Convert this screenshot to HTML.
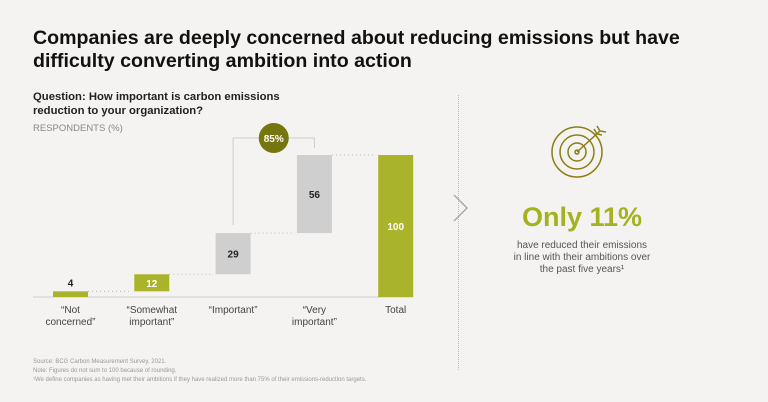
<!DOCTYPE html>
<html><head><meta charset="utf-8"><style>
body{margin:0;background:#f4f3f1;font-family:"Liberation Sans",sans-serif;}
#root{position:relative;width:768px;height:402px;overflow:hidden;background:#f4f3f1;}
.t{position:absolute;white-space:nowrap;}
</style></head><body>
<div id="root">
<div class="t" style="left:33px;top:27px;font-size:19.6px;font-weight:bold;color:#111;line-height:23px;">Companies are deeply concerned about reducing emissions but have<br>difficulty converting ambition into action</div>
<div class="t" style="left:33px;top:90px;font-size:11.3px;font-weight:bold;color:#222;line-height:14px;">Question: How important is carbon emissions<br>reduction to your organization?</div>
<div class="t" style="left:33px;top:123px;font-size:9.5px;color:#888;">RESPONDENTS (%)</div>
<svg id="chart" width="768" height="402" style="position:absolute;left:0;top:0"></svg>
<div class="t" style="left:458px;top:95px;height:275px;border-left:1px dotted #bbb;"></div>
<svg style="position:absolute;left:450px;top:192px" width="22" height="32"><polyline points="4,3 17,16 4,29" fill="none" stroke="#aaa" stroke-width="1.5"/></svg>
<svg style="position:absolute;left:550px;top:125px" width="70" height="70">
<g fill="none" stroke="#8a7f12" stroke-width="1.5"><circle cx="27" cy="27" r="25"/><circle cx="27" cy="27" r="17"/><circle cx="27" cy="27" r="9"/><circle cx="27" cy="27" r="2"/><line x1="27" y1="27" x2="50" y2="6"/><polyline points="44,4 47,9 52,10"/><polyline points="47,1 50,6 56,7"/></g></svg>
<div class="t" style="left:482px;width:200px;text-align:center;top:202px;font-size:27px;font-weight:bold;color:#a4b21f;">Only 11%</div>
<div class="t" style="left:482px;width:200px;text-align:center;top:240px;font-size:10px;color:#555;line-height:12px;">have reduced their emissions<br>in line with their ambitions over<br>the past five years¹</div>
<div class="t" style="left:33px;top:358px;font-size:6px;color:#999;line-height:9px;">Source: BCG Carbon Measurement Survey, 2021.<br>Note: Figures do not sum to 100 because of rounding.<br>¹We define companies as having met their ambitions if they have realized more than 75% of their emissions-reduction targets.</div>
</div>
<script>
const categories=['“Not|concerned”','“Somewhat|important”','“Important”','“Very|important”','Total'];
const values=[4,12,29,56,100];
const bracketLabel='85%';
const svg=document.getElementById('chart');
const NS='http://www.w3.org/2000/svg';
const baseY=297,scale=1.42,x0=53,step=81.3,bw=35;
const y=v=>baseY-Math.min(v,100)*scale;
const xb=i=>x0+i*step;
const green='#a9b42a',grey='#cfcfcf';
function el(t,a){const e=document.createElementNS(NS,t);for(const k in a)e.setAttribute(k,a[k]);svg.appendChild(e);return e;}
const axis=el('line',{x1:33,x2:413,y1:baseY,y2:baseY,stroke:'#ccc','stroke-width':1});


let cum=0;const tops=[];
values.forEach((v,i)=>{
  const isTotal=i===values.length-1;
  const lo=isTotal?0:cum,hi=isTotal?v:cum+v;
  const fill=(i===0||i===1||isTotal)?green:grey;
  const r=el('rect',{x:xb(i),y:y(hi),width:bw,height:y(lo)-y(hi),fill:fill});
  
  
  tops.push(y(hi));
  const small=(y(lo)-y(hi))<12;
  const tx=el('text',{x:xb(i)+bw/2,y:small?y(hi)-5:(y(hi)+y(lo))/2+4,'text-anchor':'middle','font-size':10,'font-weight':'bold',fill:(fill===green&&!small)?'#fff':'#222','font-family':'Liberation Sans'});
  tx.textContent=v;
  
  
  if(i<values.length-1){
    const c=el('line',{x1:xb(i)+bw,x2:xb(i+1)-2,y1:y(hi),y2:y(hi),stroke:'#bbb','stroke-dasharray':'1,3'});
    
    
  }
  categories[i].split('|').forEach((ln,j)=>{
    const t=el('text',{x:xb(i)+bw/2,y:baseY+16+j*12,'text-anchor':'middle','font-size':10,fill:'#444','font-family':'Liberation Sans'});
    t.textContent=ln;
    
    
  });
  cum=hi;
});
const bx1=xb(2)+bw/2,bx2=xb(3)+bw/2,by=tops[3]-17;
const br=el('polyline',{points:`${bx1},${tops[2]-8} ${bx1},${by} ${bx2},${by} ${bx2},${tops[3]-7}`,fill:'none',stroke:'#ccc'});


const ci=el('circle',{cx:(bx1+bx2)/2,cy:by,r:15,fill:'#76760e'});


const bt=el('text',{x:(bx1+bx2)/2,y:by+4,'text-anchor':'middle','font-size':10,'font-weight':'bold',fill:'#fff','font-family':'Liberation Sans'});
bt.textContent=bracketLabel;


</script>
</body></html>
